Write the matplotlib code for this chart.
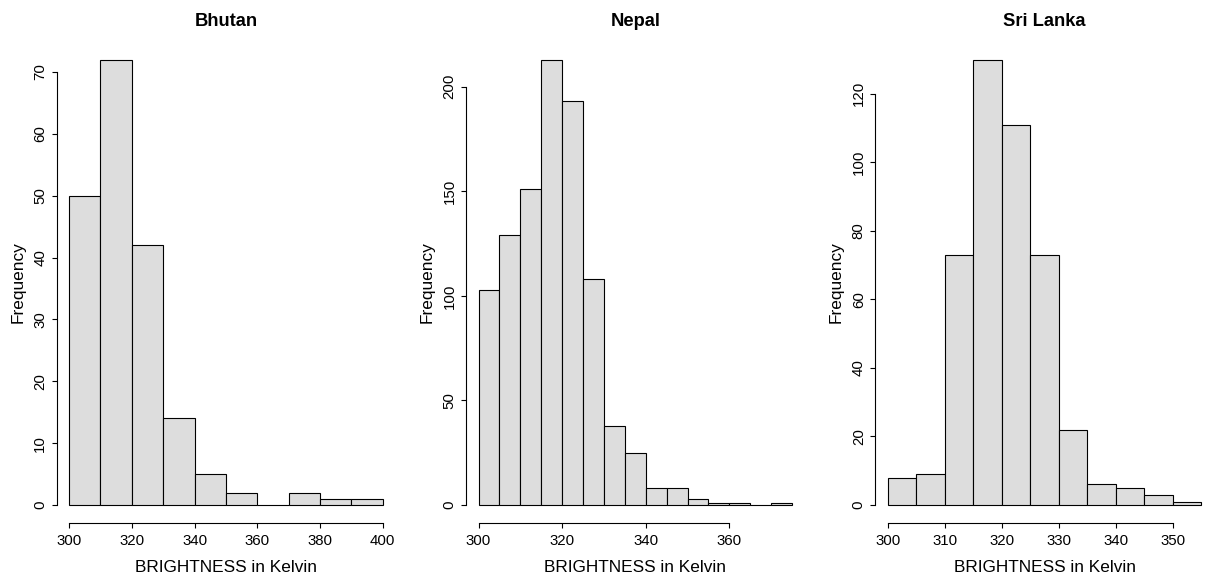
import numpy as np
import matplotlib
matplotlib.use("Agg")
import matplotlib.pyplot as plt

plt.rcParams['font.family'] = ['Liberation Sans', 'DejaVu Sans']

# ---- data ----
countries = ["Bhutan", "Nepal", "Sri Lanka"]

bhutan_edges = [300, 310, 320, 330, 340, 350, 360, 370, 380, 390, 400]
bhutan_counts = [50, 72, 42, 14, 5, 2, 0, 2, 1, 1]

nepal_edges = [300, 305, 310, 315, 320, 325, 330, 335, 340, 345, 350, 355, 360, 365, 370, 375]
nepal_counts = [103, 129, 151, 213, 193, 108, 38, 25, 8, 8, 3, 1, 1, 0, 1]

srilanka_edges = [300, 305, 310, 315, 320, 325, 330, 335, 340, 345, 350, 355]
srilanka_counts = [8, 9, 73, 130, 111, 73, 22, 6, 5, 3, 1]

bhutan_xticks = [300, 320, 340, 360, 380, 400]
nepal_xticks = [300, 320, 340, 360]
srilanka_xticks = [300, 310, 320, 330, 340, 350]

bhutan_yticks = [0, 10, 20, 30, 40, 50, 60, 70]
nepal_yticks = [0, 50, 100, 150, 200]
srilanka_yticks = [0, 20, 40, 60, 80, 100, 120]

xlabel = "BRIGHTNESS in Kelvin"
ylabel = "Frequency"

panels = [
    (bhutan_edges, bhutan_counts, bhutan_xticks, bhutan_yticks),
    (nepal_edges, nepal_counts, nepal_xticks, nepal_yticks),
    (srilanka_edges, srilanka_counts, srilanka_xticks, srilanka_yticks),
]

# ---- layout (pixels) ----
W, H = 1205, 576
fig = plt.figure(figsize=(W / 100, H / 100), dpi=100)

lefts_px = [56.6, 466.0, 875.2]
width_px = 338.6
bottom_px = 522.8   # from top
height_px = 481.0

fill = "#dddddd"

for (edges, counts, xt, yt), name, lpx in zip(panels, countries, lefts_px):
    ax = fig.add_axes([lpx / W, 1 - bottom_px / H, width_px / W, height_px / H])
    e = np.asarray(edges, dtype=float)
    c = np.asarray(counts, dtype=float)
    ax.bar(e[:-1], c, width=np.diff(e), align='edge', color=fill,
           edgecolor='black', linewidth=0.8)
    span = e[-1] - e[0]
    ax.set_xlim(e[0] - 0.04 * span, e[-1] + 0.04 * span)
    ymax = c.max()
    ax.set_ylim(-0.04 * ymax, ymax * 1.04)

    for s in ['top', 'right']:
        ax.spines[s].set_visible(False)
    ax.spines['left'].set_bounds(yt[0], yt[-1])
    ax.spines['bottom'].set_bounds(xt[0], xt[-1])
    for s in ['left', 'bottom']:
        ax.spines[s].set_linewidth(0.8)

    ax.set_xticks(xt)
    ax.set_xticklabels([str(v) for v in xt])
    ax.set_yticks(yt)
    ax.set_yticklabels([str(v) for v in yt], rotation=90, va='center')
    ax.tick_params(axis='x', direction='out', length=3.6, width=0.8,
                   pad=4.6, labelsize=10.8)
    ax.tick_params(axis='y', direction='out', length=3.6, width=0.8,
                   pad=3.2, labelsize=10.8)

    cx = lpx + width_px / 2
    fig.text(cx / W, 1 - 26 / H, name, ha='center', va='baseline',
             fontsize=13.2, fontweight='bold')
    fig.text(cx / W, 1 - 571.5 / H, xlabel, ha='center', va='baseline',
             fontsize=12.4)
    fig.text((lpx - 38.6) / W, 1 - (bottom_px - height_px / 2) / H, ylabel,
             ha='center', va='center', rotation=90, fontsize=12.4)

fig.savefig("out.png", dpi=100)
